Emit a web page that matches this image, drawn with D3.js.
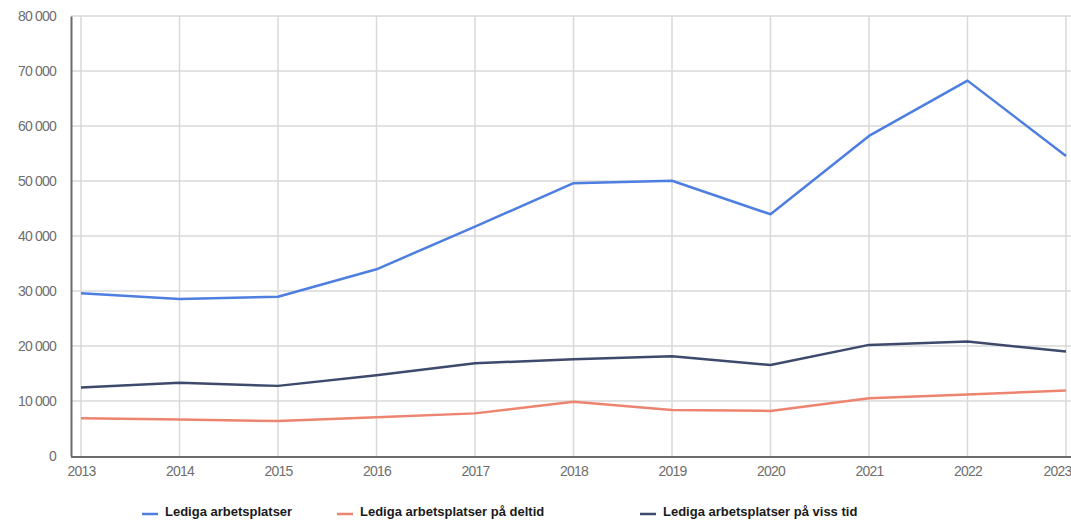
<!DOCTYPE html>
<html><head><meta charset="utf-8">
<script src="https://cdn.jsdelivr.net/npm/d3@7"></script>
<style>
body{margin:0;background:#fff;}
text{font-family:"Liberation Sans",Arial,sans-serif;}
</style></head>
<body>
<svg id="c" width="1071" height="520"></svg>
<script>
const years = [2013,2014,2015,2016,2017,2018,2019,2020,2021,2022,2023];
const seriesNames = ["Lediga arbetsplatser","Lediga arbetsplatser på deltid","Lediga arbetsplatser på viss tid"];
const ledigaTotal = [29600,28550,28950,33950,41700,49600,50050,43950,58200,68250,54550];
const ledigaDeltid = [6850,6650,6350,7050,7750,9850,8350,8200,10500,11200,11900];
const ledigaVissTid = [12450,13300,12750,14700,16850,17600,18150,16550,20200,20800,19000];
const yTicks = [0,10000,20000,30000,40000,50000,60000,70000,80000];
const colors = ["#4d7ee0","#ec8470","#3e4a6c"];

const svg = d3.select("#c");
const x = d3.scaleLinear().domain([2013,2023]).range([81,1066]);
const y = d3.scaleLinear().domain([0,80000]).range([456,16]);
const fmt = v => v===0 ? "0" : d3.format(",")(v).replace(/,/g," ");

// horizontal grid
svg.append("g").selectAll("line").data(yTicks.filter(d=>d>0)).join("line")
  .attr("x1",71).attr("x2",1071).attr("y1",d=>y(d)).attr("y2",d=>y(d))
  .attr("stroke","#d9d9d9").attr("stroke-width",1.5);
// vertical grid
svg.append("g").selectAll("line").data(years).join("line")
  .attr("x1",d=>x(d)).attr("x2",d=>x(d)).attr("y1",16).attr("y2",456)
  .attr("stroke","#d9d9d9").attr("stroke-width",1.5);

// axes
const yAxis = d3.axisLeft(y).tickValues(yTicks).tickFormat(fmt).tickSize(0).tickPadding(15);
const gy = svg.append("g").attr("transform","translate(71,0)").call(yAxis);
gy.select(".domain").attr("stroke","#6b6b6b").attr("stroke-width",2);
gy.selectAll("text").attr("fill","#6e6e6e").attr("font-size",14).style("letter-spacing","-0.8px");

const xAxis = d3.axisBottom(x).tickValues(years).tickFormat(d3.format("d")).tickSize(0).tickPadding(9);
const gx = svg.append("g").attr("transform","translate(0,457)").call(xAxis);
gx.select(".domain").remove();
svg.append("line").attr("x1",71).attr("x2",1071).attr("y1",457).attr("y2",457)
  .attr("stroke","#6b6b6b").attr("stroke-width",2);
gx.selectAll("text").attr("fill","#6e6e6e").attr("font-size",14).style("letter-spacing","-0.8px");
gx.selectAll(".tick").filter(d=>d===2023).select("text").attr("text-anchor","end").attr("dx",5);

// lines
const data = [ledigaTotal, ledigaDeltid, ledigaVissTid];
const line = d3.line().x((d,i)=>x(years[i])).y(d=>y(d));
[2,1,0].forEach(k=>{
  svg.append("path").datum(data[k]).attr("d",line)
    .attr("fill","none").attr("stroke",colors[k]).attr("stroke-width",2.5)
    .attr("stroke-linejoin","round");
});

// legend
const legX = [142,337,640];
const lg = svg.append("g");
seriesNames.forEach((n,i)=>{
  lg.append("line").attr("x1",legX[i]).attr("x2",legX[i]+16).attr("y1",514).attr("y2",514)
    .attr("stroke",colors[i]).attr("stroke-width",2.5);
  lg.append("text").attr("x",legX[i]+23).attr("y",516).text(n)
    .attr("font-size",13).attr("font-weight","bold").attr("fill","#1a1a1a");
});
</script>
</body></html>
